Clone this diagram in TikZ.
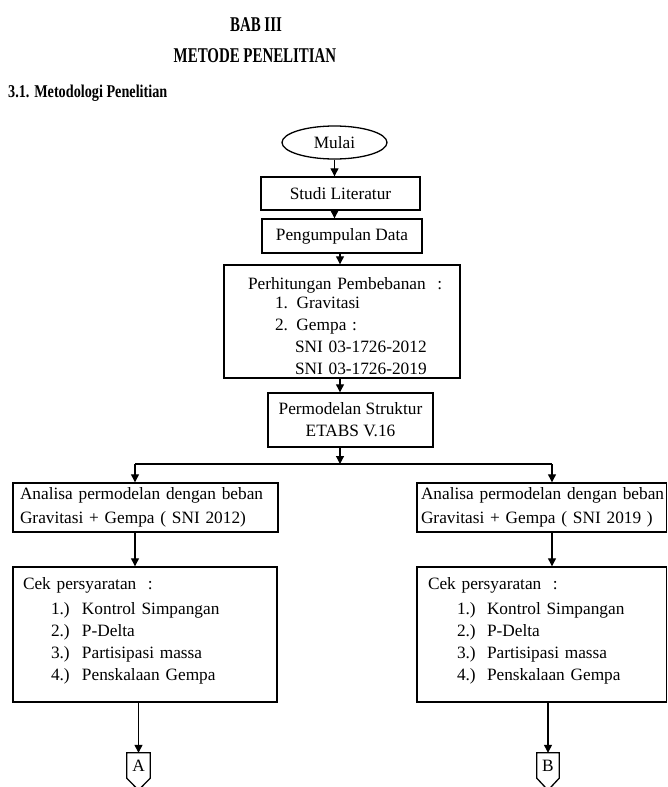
\documentclass[tikz,border=0pt]{standalone}
\usepackage{fontspec}
\setmainfont{Liberation Serif}
\usetikzlibrary{shapes.geometric,arrows.meta,calc}
\begin{document}
\begin{tikzpicture}[x=1pt,y=-1pt,
  every node/.style={font=\fontsize{17.3}{22}\selectfont, inner sep=0pt},
  box/.style={draw, line width=1.4pt, fill=white},
  lbox/.style={box, align=left, text width=#1},
  conn/.style={line width=1.2pt},
  arr/.style={conn, -{Triangle[length=8pt,width=8pt]}},
  ttl/.style={font=\fontsize{21}{24}\selectfont\bfseries, anchor=base}]
\useasboundingbox (0,0) rectangle (668,787);

% titles
\node[ttl] (bab) at (256,31) {\scalebox{0.71}[1]{BAB III}};
\node[ttl] (metode) at (255,62) {\scalebox{0.71}[1]{METODE PENELITIAN}};
\node[font=\fontsize{18}{22}\selectfont\bfseries, anchor=base west] (sub) at (8,97) {\scalebox{0.79}[1]{3.1. Metodologi Penelitian}};

% main chain
\node[ellipse, draw, line width=1.3pt, minimum width=105, minimum height=33] (mulai) at (334.5,142.5) {Mulai};
\node[box, minimum width=159, minimum height=33] (studi) at (340.5,193.5) {Studi Literatur};
\node[box, minimum width=160, minimum height=34] (kumpul) at (342,236) {Pengumpulan Data};
\node[lbox=236, minimum height=113] (hitung) at (342,321.5) {%
\mbox{}\\[-1pt]
\hspace*{24pt}\mbox{Perhitungan Pembebanan~~:}\\[-3pt]
\hspace*{51pt}1. Gravitasi\\
\hspace*{51pt}2.\hspace{8.5pt}Gempa :\\
\hspace*{71pt}SNI 03-1726-2012\\
\hspace*{71pt}SNI 03-1726-2019};
\node[box, align=center, minimum width=165, minimum height=54] (model) at (350.5,420) {Permodelan Struktur\\ETABS V.16};

% branches
\node[lbox=251, inner xsep=7pt, minimum height=49] (anaL) at (145.5,507.5) {%
\mbox{Analisa permodelan dengan beban}\\[2pt]
\mbox{Gravitasi + Gempa ( SNI 2012)}};
\node[lbox=241.5, inner xsep=4pt, minimum height=49] (anaR) at (541.75,507.5) {%
\mbox{Analisa permodelan dengan beban}\\[2pt]
\mbox{Gravitasi + Gempa ( SNI 2019 )}};

\node[lbox=264, minimum height=135] (cekL) at (145,634.5) {%
\hspace*{10pt}Cek persyaratan~~:\\[3pt]
\hspace*{38pt}\makebox[31pt][l]{1.)}Kontrol Simpangan\\
\hspace*{38pt}\makebox[31pt][l]{2.)}P-Delta\\
\hspace*{38pt}\makebox[31pt][l]{3.)}Partisipasi massa\\
\hspace*{38pt}\makebox[31pt][l]{4.)}Penskalaan Gempa\\[-11pt]\mbox{}};
\node[lbox=249.5, minimum height=135] (cekR) at (541.75,634.5) {%
\hspace*{11pt}Cek persyaratan~~:\\[3pt]
\hspace*{40pt}\makebox[30pt][l]{1.)}Kontrol Simpangan\\
\hspace*{40pt}\makebox[30pt][l]{2.)}P-Delta\\
\hspace*{40pt}\makebox[30pt][l]{3.)}Partisipasi massa\\
\hspace*{40pt}\makebox[30pt][l]{4.)}Penskalaan Gempa\\[-11pt]\mbox{}};

% off-page connectors
\node[minimum width=23, minimum height=25] (conA) at (138.5,765.5) {A};
\node[minimum width=22, minimum height=25] (conB) at (548,765.5) {B};
\foreach \c in {conA,conB}{
  \draw[line width=1.3pt, line join=miter] (\c.north west) -- (\c.south west) -- ($(\c.south)+(0,12)$) -- (\c.south east) -- (\c.north east) -- cycle;
}

% junction coordinates
\coordinate (jM) at (340,464);
\coordinate (jL) at (135,464);
\coordinate (jR) at (552,464);

% connectors
\draw[arr] (mulai.south) -- (mulai.south |- studi.north);
\draw[arr] (studi.south -| mulai.south) -- (kumpul.north -| mulai.south);
\draw[arr] (kumpul.south -| jM) -- (hitung.north -| jM);
\draw[arr] (hitung.south -| jM) -- (model.north -| jM);
\draw[arr] (model.south -| jM) -- (jM);
\draw[conn] (jL) -- (jR);
\draw[arr] (jL) -- (jL |- anaL.north);
\draw[arr] (jR) -- (jR |- anaR.north);
\draw[arr] (anaL.south -| jL) -- (cekL.north -| jL);
\draw[arr] (anaR.south -| jR) -- (cekR.north -| jR);
\draw[arr] (cekL.south -| conA.north) -- (conA.north);
\draw[arr] (cekR.south -| conB.north) -- (conB.north);
\end{tikzpicture}
\end{document}
